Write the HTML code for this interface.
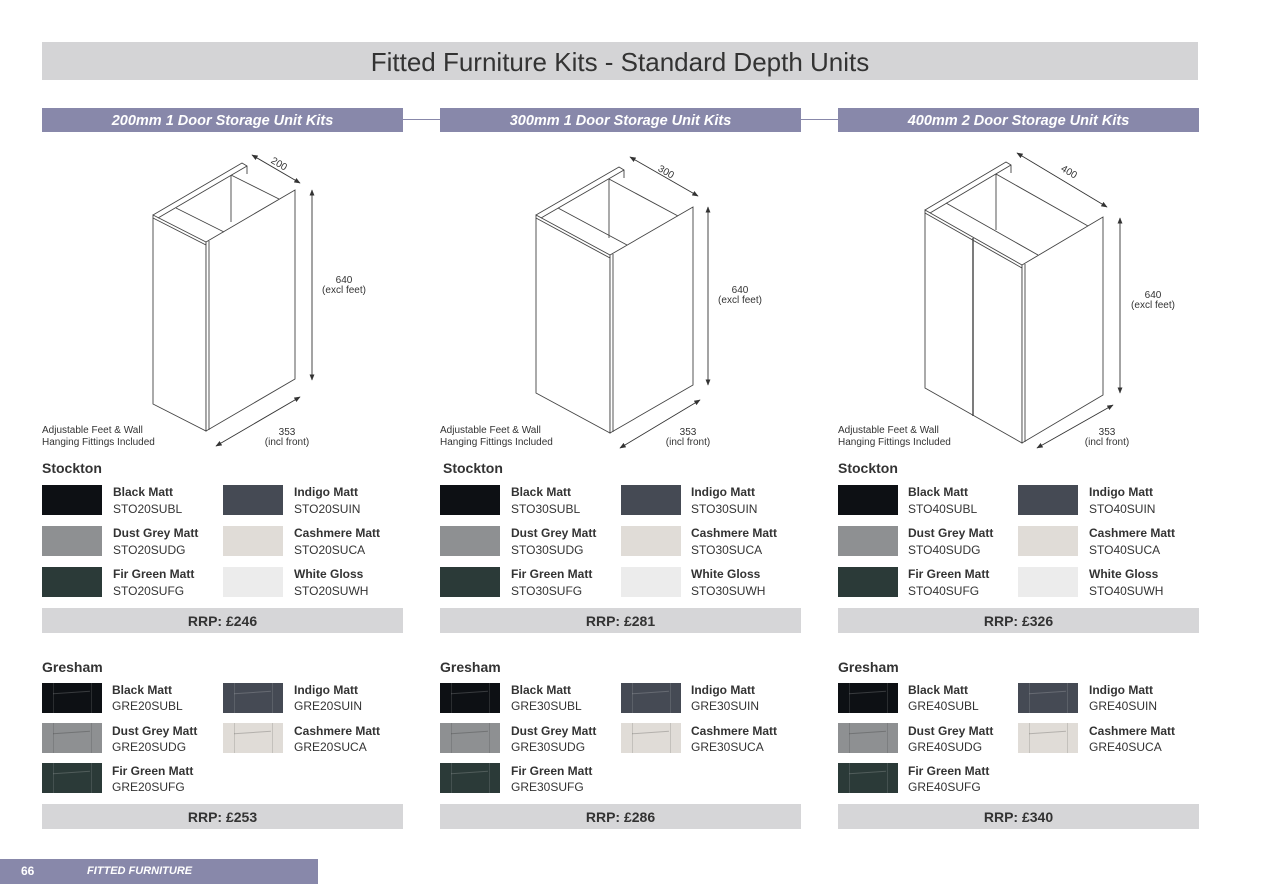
<!DOCTYPE html>
<html><head><meta charset="utf-8"><style>
*{margin:0;padding:0;box-sizing:border-box}
body{width:1262px;height:892px;background:#fff;position:relative;overflow:hidden;font-family:"Liberation Sans",Arial,sans-serif;color:#333}
.a{position:absolute}
.title{left:42px;top:42px;width:1156px;height:38px;background:#d4d4d6;font-size:26px;line-height:40px;text-align:center;color:#333}
.hd{top:108px;width:361px;height:24px;background:#8888aa;color:#fff;font-style:italic;font-weight:bold;font-size:14.5px;line-height:27px;text-align:center}
.con{top:119px;height:1px;background:#8888aa}
.sec{font-weight:bold;font-size:14px;color:#333}
.sw{width:60px;height:30px}
.nm{font-weight:bold;font-size:12px;line-height:14px;color:#333}
.cd{font-size:12px;line-height:14px;color:#333}
.rrp{width:361px;height:25px;background:#d6d6d8;font-weight:bold;font-size:14px;line-height:27px;text-align:center;color:#333}
.note{font-size:10px;line-height:12px;color:#333}
.sh{overflow:hidden}
.sh:before{content:"";position:absolute;left:11px;top:0;width:37px;height:30px;border-left:1px solid rgba(255,255,255,.12);border-right:1px solid rgba(255,255,255,.12)}
.sh:after{content:"";position:absolute;left:11px;top:9px;width:37px;height:1px;background:rgba(255,255,255,.18);transform:rotate(-4deg)}
.lt.sh:before{border-color:rgba(0,0,0,.12)}
.lt.sh:after{background:rgba(0,0,0,.2)}
</style></head><body>
<div class="a title">Fitted Furniture Kits - Standard Depth Units</div>
<div class="a hd" style="left:42px">200mm 1 Door Storage Unit Kits</div>
<div class="a hd" style="left:440px">300mm 1 Door Storage Unit Kits</div>
<div class="a hd" style="left:838px">400mm 2 Door Storage Unit Kits</div>
<div class="a con" style="left:403px;width:37px"></div>
<div class="a con" style="left:801px;width:37px"></div>

<svg class="a" style="left:0;top:0" width="1262" height="892" viewBox="0 0 1262 892">
<defs><marker id="ar" viewBox="0 0 10 10" refX="9" refY="5" markerWidth="7" markerHeight="7" orient="auto-start-reverse"><path d="M0,1 L10,5 L0,9 z" fill="#333"/></marker></defs>
<g fill="none" stroke="#444" stroke-width="0.9">
<polygon points="153,215 206,242 206,431 153,404" fill="#fff"/>
<polygon points="206,242 295,190 295,379 206,431" fill="#fff"/>
<line x1="209" y1="241" x2="209" y2="430"/>
<polyline points="153,215 242,163 247,166 247,174"/>
<line x1="158" y1="218" x2="247" y2="166"/>
<line x1="231" y1="175" x2="231" y2="222"/>
<line x1="231" y1="175" x2="279" y2="199"/>
<line x1="176" y1="208" x2="224" y2="232"/>
<line x1="153" y1="218" x2="206" y2="245"/>
<polygon points="536,215 610,255 610,433 536,393" fill="#fff"/>
<polygon points="610,255 693,207 693,385 610,433" fill="#fff"/>
<line x1="613" y1="254" x2="613" y2="432"/>
<polyline points="536,215 619,167 624,170 624,178"/>
<line x1="541" y1="218" x2="624" y2="170"/>
<line x1="609" y1="179" x2="609" y2="238"/>
<line x1="609" y1="179" x2="678" y2="216"/>
<line x1="558" y1="208" x2="627" y2="245"/>
<line x1="536" y1="218" x2="610" y2="258"/>
<polygon points="925,210 1022,265 1022,443 925,388" fill="#fff"/>
<polygon points="1022,265 1103,217 1103,395 1022,443" fill="#fff"/>
<line x1="1025" y1="264" x2="1025" y2="442"/>
<polyline points="925,210 1006,162 1011,165 1011,173"/>
<line x1="930" y1="213" x2="1011" y2="165"/>
<line x1="996" y1="174" x2="996" y2="230"/>
<line x1="996" y1="174" x2="1088" y2="226"/>
<line x1="946" y1="203" x2="1038" y2="255"/>
<line x1="925" y1="213" x2="1022" y2="268"/>
<line x1="973" y1="238" x2="973" y2="416" stroke-width="1.4"/>
</g>
<g stroke="#333" stroke-width="0.9" marker-start="url(#ar)" marker-end="url(#ar)">
<line x1="252" y1="155" x2="300" y2="183"/>
<line x1="312" y1="190" x2="312" y2="380"/>
<line x1="216" y1="446" x2="300" y2="397"/>
<line x1="630" y1="157" x2="698" y2="196"/>
<line x1="708" y1="207" x2="708" y2="385"/>
<line x1="620" y1="448" x2="700" y2="400"/>
<line x1="1017" y1="153" x2="1107" y2="207"/>
<line x1="1120" y1="218" x2="1120" y2="393"/>
<line x1="1037" y1="448" x2="1113" y2="405"/>
</g>
<g font-family="Liberation Sans, Arial, sans-serif" font-size="10" fill="#333" text-anchor="middle">
<text x="279" y="167" transform="rotate(30 279 164)">200</text>
<text x="666" y="175" transform="rotate(30 666 172)">300</text>
<text x="1069" y="175" transform="rotate(30 1069 172)">400</text>
<text x="344" y="283">640</text><text x="344" y="293">(excl feet)</text>
<text x="740" y="293">640</text><text x="740" y="303">(excl feet)</text>
<text x="1153" y="298">640</text><text x="1153" y="308">(excl feet)</text>
<text x="287" y="435">353</text><text x="287" y="445">(incl front)</text>
<text x="688" y="435">353</text><text x="688" y="445">(incl front)</text>
<text x="1107" y="435">353</text><text x="1107" y="445">(incl front)</text>
</g>
</svg>

<div class="a note" style="left:42px;top:425px">Adjustable Feet &amp; Wall<br>Hanging Fittings Included</div>
<div class="a note" style="left:440px;top:425px">Adjustable Feet &amp; Wall<br>Hanging Fittings Included</div>
<div class="a note" style="left:838px;top:425px">Adjustable Feet &amp; Wall<br>Hanging Fittings Included</div>

<div class="a sec" style="left:42px;top:460px">Stockton</div>
<div class="a sw" style="left:42px;top:485px;background:#0d1014"></div>
<div class="a nm" style="left:113px;top:485px">Black Matt</div><div class="a cd" style="left:113px;top:502px">STO20SUBL</div>
<div class="a sw" style="left:223px;top:485px;background:#454a54"></div>
<div class="a nm" style="left:294px;top:485px">Indigo Matt</div><div class="a cd" style="left:294px;top:502px">STO20SUIN</div>
<div class="a sw" style="left:42px;top:526px;background:#8e9092"></div>
<div class="a nm" style="left:113px;top:526px">Dust Grey Matt</div><div class="a cd" style="left:113px;top:543px">STO20SUDG</div>
<div class="a sw" style="left:223px;top:526px;background:#e0dcd7"></div>
<div class="a nm" style="left:294px;top:526px">Cashmere Matt</div><div class="a cd" style="left:294px;top:543px">STO20SUCA</div>
<div class="a sw" style="left:42px;top:567px;background:#2b3a38"></div>
<div class="a nm" style="left:113px;top:567px">Fir Green Matt</div><div class="a cd" style="left:113px;top:584px">STO20SUFG</div>
<div class="a sw" style="left:223px;top:567px;background:#ececec"></div>
<div class="a nm" style="left:294px;top:567px">White Gloss</div><div class="a cd" style="left:294px;top:584px">STO20SUWH</div>
<div class="a rrp" style="left:42px;top:608px">RRP: £246</div>

<div class="a sec" style="left:42px;top:659px">Gresham</div>
<div class="a sw sh" style="left:42px;top:683px;background:#0d1014"></div>
<div class="a nm" style="left:112px;top:683px">Black Matt</div><div class="a cd" style="left:112px;top:699px">GRE20SUBL</div>
<div class="a sw sh" style="left:223px;top:683px;background:#454a54"></div>
<div class="a nm" style="left:294px;top:683px">Indigo Matt</div><div class="a cd" style="left:294px;top:699px">GRE20SUIN</div>
<div class="a sw sh lt" style="left:42px;top:723px;background:#8e9092"></div>
<div class="a nm" style="left:112px;top:724px">Dust Grey Matt</div><div class="a cd" style="left:112px;top:740px">GRE20SUDG</div>
<div class="a sw sh lt" style="left:223px;top:723px;background:#e0dcd7"></div>
<div class="a nm" style="left:294px;top:724px">Cashmere Matt</div><div class="a cd" style="left:294px;top:740px">GRE20SUCA</div>
<div class="a sw sh" style="left:42px;top:763px;background:#2b3a38"></div>
<div class="a nm" style="left:112px;top:764px">Fir Green Matt</div><div class="a cd" style="left:112px;top:780px">GRE20SUFG</div>
<div class="a rrp" style="left:42px;top:804px">RRP: £253</div>

<div class="a sec" style="left:443px;top:460px">Stockton</div>
<div class="a sw" style="left:440px;top:485px;background:#0d1014"></div>
<div class="a nm" style="left:511px;top:485px">Black Matt</div><div class="a cd" style="left:511px;top:502px">STO30SUBL</div>
<div class="a sw" style="left:621px;top:485px;background:#454a54"></div>
<div class="a nm" style="left:691px;top:485px">Indigo Matt</div><div class="a cd" style="left:691px;top:502px">STO30SUIN</div>
<div class="a sw" style="left:440px;top:526px;background:#8e9092"></div>
<div class="a nm" style="left:511px;top:526px">Dust Grey Matt</div><div class="a cd" style="left:511px;top:543px">STO30SUDG</div>
<div class="a sw" style="left:621px;top:526px;background:#e0dcd7"></div>
<div class="a nm" style="left:691px;top:526px">Cashmere Matt</div><div class="a cd" style="left:691px;top:543px">STO30SUCA</div>
<div class="a sw" style="left:440px;top:567px;background:#2b3a38"></div>
<div class="a nm" style="left:511px;top:567px">Fir Green Matt</div><div class="a cd" style="left:511px;top:584px">STO30SUFG</div>
<div class="a sw" style="left:621px;top:567px;background:#ececec"></div>
<div class="a nm" style="left:691px;top:567px">White Gloss</div><div class="a cd" style="left:691px;top:584px">STO30SUWH</div>
<div class="a rrp" style="left:440px;top:608px">RRP: £281</div>

<div class="a sec" style="left:440px;top:659px">Gresham</div>
<div class="a sw sh" style="left:440px;top:683px;background:#0d1014"></div>
<div class="a nm" style="left:511px;top:683px">Black Matt</div><div class="a cd" style="left:511px;top:699px">GRE30SUBL</div>
<div class="a sw sh" style="left:621px;top:683px;background:#454a54"></div>
<div class="a nm" style="left:691px;top:683px">Indigo Matt</div><div class="a cd" style="left:691px;top:699px">GRE30SUIN</div>
<div class="a sw sh lt" style="left:440px;top:723px;background:#8e9092"></div>
<div class="a nm" style="left:511px;top:724px">Dust Grey Matt</div><div class="a cd" style="left:511px;top:740px">GRE30SUDG</div>
<div class="a sw sh lt" style="left:621px;top:723px;background:#e0dcd7"></div>
<div class="a nm" style="left:691px;top:724px">Cashmere Matt</div><div class="a cd" style="left:691px;top:740px">GRE30SUCA</div>
<div class="a sw sh" style="left:440px;top:763px;background:#2b3a38"></div>
<div class="a nm" style="left:511px;top:764px">Fir Green Matt</div><div class="a cd" style="left:511px;top:780px">GRE30SUFG</div>
<div class="a rrp" style="left:440px;top:804px">RRP: £286</div>

<div class="a sec" style="left:838px;top:460px">Stockton</div>
<div class="a sw" style="left:838px;top:485px;background:#0d1014"></div>
<div class="a nm" style="left:908px;top:485px">Black Matt</div><div class="a cd" style="left:908px;top:502px">STO40SUBL</div>
<div class="a sw" style="left:1018px;top:485px;background:#454a54"></div>
<div class="a nm" style="left:1089px;top:485px">Indigo Matt</div><div class="a cd" style="left:1089px;top:502px">STO40SUIN</div>
<div class="a sw" style="left:838px;top:526px;background:#8e9092"></div>
<div class="a nm" style="left:908px;top:526px">Dust Grey Matt</div><div class="a cd" style="left:908px;top:543px">STO40SUDG</div>
<div class="a sw" style="left:1018px;top:526px;background:#e0dcd7"></div>
<div class="a nm" style="left:1089px;top:526px">Cashmere Matt</div><div class="a cd" style="left:1089px;top:543px">STO40SUCA</div>
<div class="a sw" style="left:838px;top:567px;background:#2b3a38"></div>
<div class="a nm" style="left:908px;top:567px">Fir Green Matt</div><div class="a cd" style="left:908px;top:584px">STO40SUFG</div>
<div class="a sw" style="left:1018px;top:567px;background:#ececec"></div>
<div class="a nm" style="left:1089px;top:567px">White Gloss</div><div class="a cd" style="left:1089px;top:584px">STO40SUWH</div>
<div class="a rrp" style="left:838px;top:608px">RRP: £326</div>

<div class="a sec" style="left:838px;top:659px">Gresham</div>
<div class="a sw sh" style="left:838px;top:683px;background:#0d1014"></div>
<div class="a nm" style="left:908px;top:683px">Black Matt</div><div class="a cd" style="left:908px;top:699px">GRE40SUBL</div>
<div class="a sw sh" style="left:1018px;top:683px;background:#454a54"></div>
<div class="a nm" style="left:1089px;top:683px">Indigo Matt</div><div class="a cd" style="left:1089px;top:699px">GRE40SUIN</div>
<div class="a sw sh lt" style="left:838px;top:723px;background:#8e9092"></div>
<div class="a nm" style="left:908px;top:724px">Dust Grey Matt</div><div class="a cd" style="left:908px;top:740px">GRE40SUDG</div>
<div class="a sw sh lt" style="left:1018px;top:723px;background:#e0dcd7"></div>
<div class="a nm" style="left:1089px;top:724px">Cashmere Matt</div><div class="a cd" style="left:1089px;top:740px">GRE40SUCA</div>
<div class="a sw sh" style="left:838px;top:763px;background:#2b3a38"></div>
<div class="a nm" style="left:908px;top:764px">Fir Green Matt</div><div class="a cd" style="left:908px;top:780px">GRE40SUFG</div>
<div class="a rrp" style="left:838px;top:804px">RRP: £340</div>

<div class="a" style="left:0;top:859px;width:318px;height:25px;background:#8888aa"></div>
<div class="a" style="left:21px;top:859px;line-height:25px;color:#fff;font-weight:bold;font-size:12px">66</div>
<div class="a" style="left:87px;top:859px;line-height:25px;color:#fff;font-weight:bold;font-style:italic;font-size:11px">FITTED FURNITURE</div>
</body></html>
